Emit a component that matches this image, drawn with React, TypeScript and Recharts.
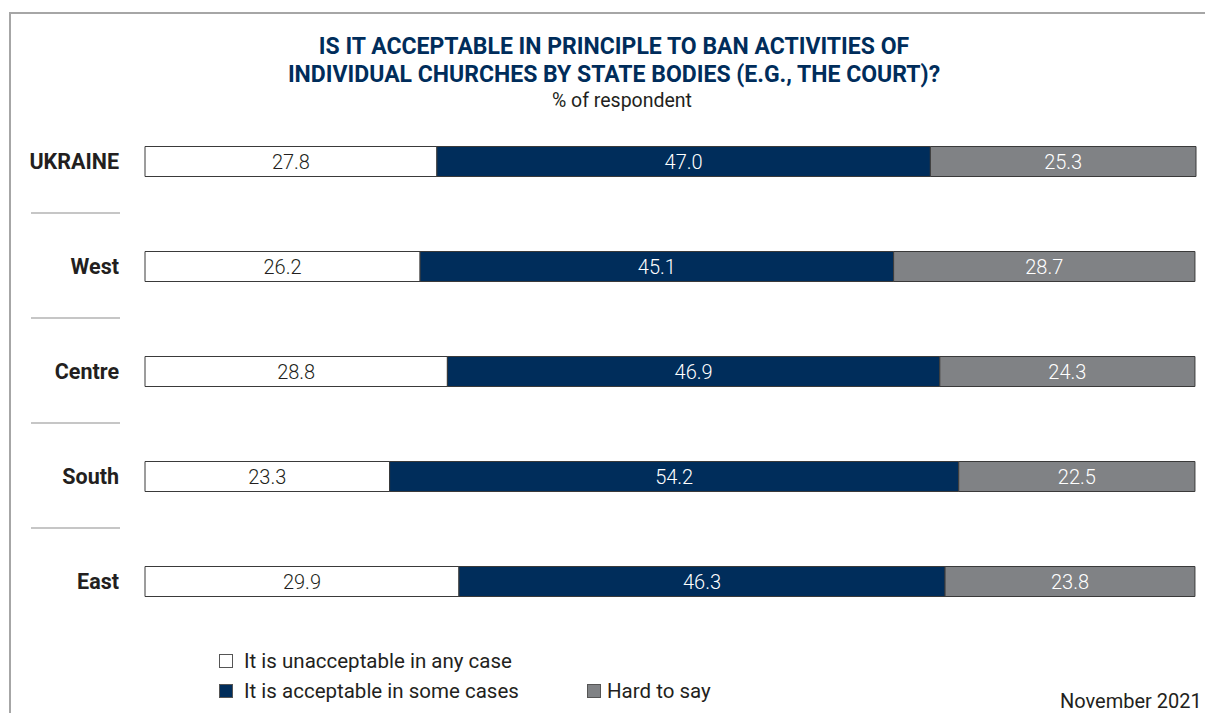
import React from 'react';
import { BarChart, Bar, XAxis, YAxis, LabelList, Legend } from 'recharts';

const categories = ['UKRAINE', 'West', 'Centre', 'South', 'East'];
const unacceptable = [27.8, 26.2, 28.8, 23.3, 29.9];
const acceptable = [47.0, 45.1, 46.9, 54.2, 46.3];
const hardToSay = [25.3, 28.7, 24.3, 22.5, 23.8];
const seriesNames = ['It is unacceptable in any case', 'It is acceptable in some cases', 'Hard to say'];

const NAVY = '#002d5b';
const GRAY = '#808285';
const TEXT = '#231f20';
const FONT = "Roboto, 'Noto Sans', sans-serif";

const data = categories.map((c, i) => ({
  name: c,
  unacceptable: unacceptable[i],
  acceptable: acceptable[i],
  hard: hardToSay[i],
}));

const CategoryTick = (props: any) => {
  const { x, y, payload, index } = props;
  const last = index === categories.length - 1;
  return (
    <g>
      <text x={x - 18} y={y} dy={7.5} textAnchor="end" fontWeight={700} fontSize={21.5}
        fontFamily={FONT} fill={TEXT}>
        {payload.value}
      </text>
      {!last && (
        <line x1={31} x2={120} y1={y + 52} y2={y + 52} stroke="#b3b3b3" strokeWidth={1.5} />
      )}
    </g>
  );
};

const LegendContent = () => {
  const sq = (fill: string, gap: number) => (
    <span style={{ display: 'inline-block', width: 14, height: 14, background: fill, border: '1px solid #555', marginRight: gap, verticalAlign: 'middle', boxSizing: 'border-box' }} />
  );
  const txt: React.CSSProperties = { fontSize: 20.5, color: TEXT, verticalAlign: 'middle', fontFamily: FONT };
  return (
    <div style={{ position: 'relative', width: 1205, height: 60 }}>
      <div style={{ position: 'absolute', left: 219, top: 0, whiteSpace: 'nowrap', lineHeight: '28px' }}>
        {sq('#ffffff', 11)}<span style={txt}>{seriesNames[0]}</span>
      </div>
      <div style={{ position: 'absolute', left: 219, top: 30, whiteSpace: 'nowrap', lineHeight: '28px' }}>
        {sq(NAVY, 11)}<span style={txt}>{seriesNames[1]}</span>
      </div>
      <div style={{ position: 'absolute', left: 587, top: 30, whiteSpace: 'nowrap', lineHeight: '28px' }}>
        {sq(GRAY, 6)}<span style={txt}>{seriesNames[2]}</span>
      </div>
    </div>
  );
};

const labelStyle = { fontSize: 20, fontWeight: 300, fontFamily: FONT };
const fmt = (v: any) => Number(v).toFixed(1);

export default function App() {
  return (
    <div style={{ position: 'absolute', left: 0, top: 0, width: 1205, height: 713, overflow: 'hidden', background: '#fff' }}>
      <div style={{ position: 'absolute', left: 9, top: 12, width: 1300, height: 800, borderLeft: '2px solid #a6a6a6', borderTop: '2px solid #a6a6a6' }} />
      <div style={{ position: 'absolute', left: 0, top: 33, width: 1228, textAlign: 'center', color: NAVY, fontWeight: 700, fontSize: 23, lineHeight: '28px', fontFamily: FONT }}>
        IS IT ACCEPTABLE IN PRINCIPLE TO BAN ACTIVITIES OF<br />
        INDIVIDUAL CHURCHES BY STATE BODIES (E.G., THE COURT)?
      </div>
      <div style={{ position: 'absolute', left: 8, top: 89, width: 1228, textAlign: 'center', color: TEXT, fontSize: 19.5, fontFamily: FONT }}>
        % of respondent
      </div>
      <div style={{ position: 'absolute', left: 1060, top: 689, fontSize: 20, lineHeight: '24px', color: TEXT, whiteSpace: 'nowrap', fontFamily: FONT }}>
        November 2021
      </div>
      <div style={{ position: 'absolute', left: 0, top: 0 }}>
        <BarChart width={1205} height={713} data={data} layout="vertical" barSize={30}
          margin={{ top: 108.5, bottom: 19.5, left: 25, right: 9 }}>
          <XAxis type="number" domain={[0, 100]} hide />
          <YAxis type="category" dataKey="name" width={120} axisLine={false} tickLine={false} tick={<CategoryTick />} interval={0} />
          <Legend content={<LegendContent />} wrapperStyle={{ position: 'absolute', left: 0, top: 646, width: 1205, height: 60 }} />
          <Bar dataKey="unacceptable" name={seriesNames[0]} stackId="a" fill="#ffffff" stroke="#3a3a3a" strokeWidth={1} isAnimationActive={false}>
            <LabelList dataKey="unacceptable" position="center" fill={TEXT} formatter={fmt} style={labelStyle} />
          </Bar>
          <Bar dataKey="acceptable" name={seriesNames[1]} stackId="a" fill={NAVY} stroke="#3a3a3a" strokeWidth={1} isAnimationActive={false}>
            <LabelList dataKey="acceptable" position="center" fill="#ffffff" formatter={fmt} style={labelStyle} />
          </Bar>
          <Bar dataKey="hard" name={seriesNames[2]} stackId="a" fill={GRAY} stroke="#3a3a3a" strokeWidth={1} isAnimationActive={false}>
            <LabelList dataKey="hard" position="center" fill="#ffffff" formatter={fmt} style={labelStyle} />
          </Bar>
        </BarChart>
      </div>
    </div>
  );
}
